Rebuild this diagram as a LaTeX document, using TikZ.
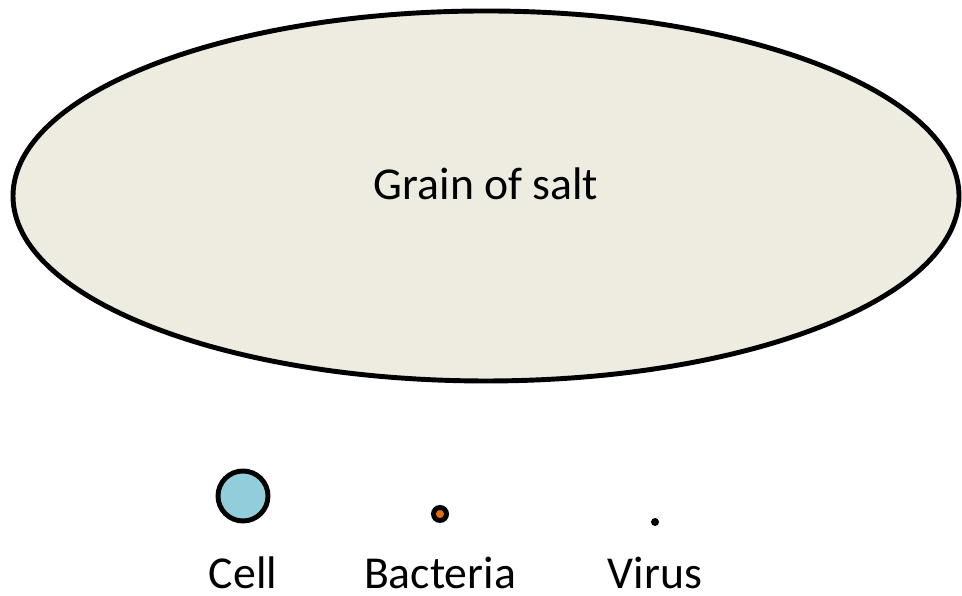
\documentclass[tikz,border=0pt]{standalone}
\usepackage{fontspec}
\setmainfont{Carlito}
\definecolor{saltfill}{HTML}{EEECE1}
\definecolor{cellfill}{HTML}{92CDDC}
\definecolor{bactfill}{HTML}{E46C0A}
\begin{document}
\begin{tikzpicture}[
    outline/.style={draw=black, line width=1.4pt},
    blob/.style={outline, circle, inner sep=0pt},
    caption/.style={font=\fontsize{13}{15}\selectfont, anchor=base}]
  \useasboundingbox (0,0) rectangle (9.62,5.96);

  % Grain of salt
  \filldraw[outline, fill=saltfill] (4.86,4.00) ellipse (4.73 and 1.85);
  \node[caption] (salt) at (4.86,3.96) {Grain of salt};

  % Organisms
  \node[blob, fill=cellfill, minimum size=5mm] (cell) at (2.43,1.00) {};
  \node[blob, fill=bactfill, minimum size=1.3mm] (bacteria) at (4.40,0.82) {};
  \node[circle, fill=black, inner sep=0pt, minimum size=0.8mm] (virus) at (6.55,0.74) {};

  % Labels
  \node[caption] (celltext) at (2.43,0.07) {Cell};
  \node[caption] (bacteriatext) at (4.40,0.07) {Bacteria};
  \node[caption] (virustext) at (6.55,0.07) {Virus};
\end{tikzpicture}
\end{document}
